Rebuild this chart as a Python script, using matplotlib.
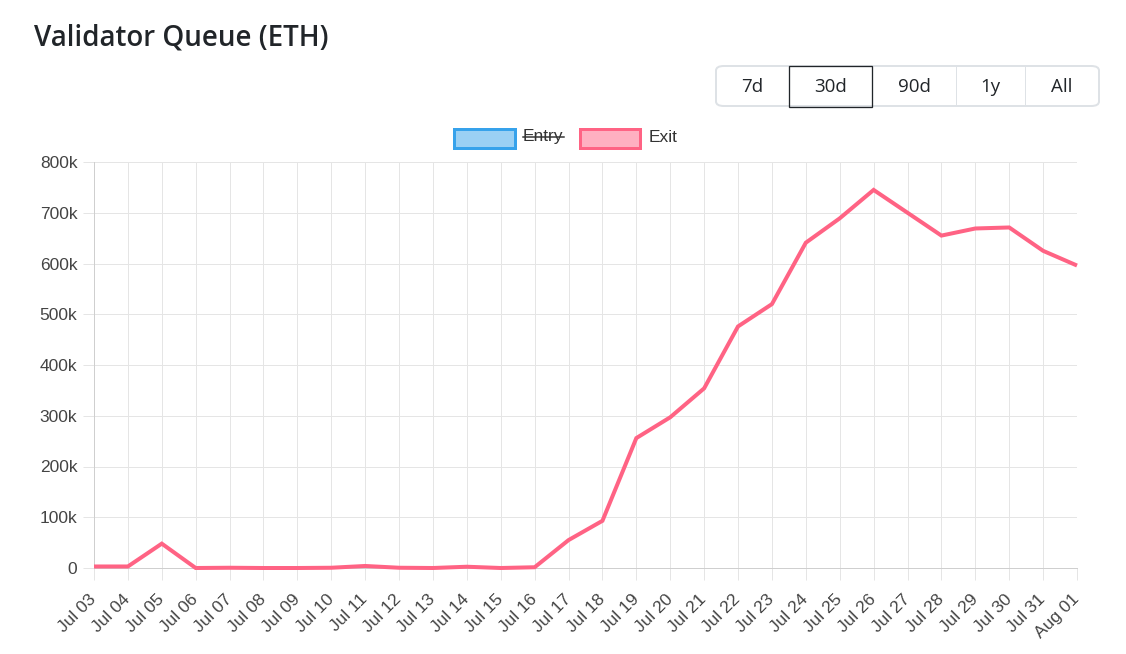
import matplotlib
matplotlib.use("Agg")
import matplotlib.pyplot as plt
from matplotlib.patches import Rectangle, FancyBboxPatch
from matplotlib.lines import Line2D

# ---------------- data ----------------
dates = ["Jul 03", "Jul 04", "Jul 05", "Jul 06", "Jul 07", "Jul 08", "Jul 09", "Jul 10",
         "Jul 11", "Jul 12", "Jul 13", "Jul 14", "Jul 15", "Jul 16", "Jul 17", "Jul 18",
         "Jul 19", "Jul 20", "Jul 21", "Jul 22", "Jul 23", "Jul 24", "Jul 25", "Jul 26",
         "Jul 27", "Jul 28", "Jul 29", "Jul 30", "Jul 31", "Aug 01"]
exit_queue = [3000, 3000, 48000, 0, 500, 0, 0, 500,
              4000, 500, 0, 2500, 0, 1500, 55000, 93000,
              256000, 297000, 354000, 476000, 520000, 641000, 689000, 745000,
              700000, 655000, 669000, 671000, 625000, 596000]
y_ticks = [0, 100000, 200000, 300000, 400000, 500000, 600000, 700000, 800000]
y_tick_labels = ["0", "100k", "200k", "300k", "400k", "500k", "600k", "700k", "800k"]
legend_labels = ["Entry", "Exit"]
buttons = ["7d", "30d", "90d", "1y", "All"]
title = "Validator Queue (ETH)"

# ---------------- layout ----------------
W, H = 1126, 654
DPI = 100
PT = 72.0 / DPI  # points per pixel

def fx(x):
    return x / W

def fy(y):
    return 1 - y / H

fig = plt.figure(figsize=(W / DPI, H / DPI), dpi=DPI)
fig.patch.set_facecolor("white")

CH_FONT = ["Liberation Sans", "DejaVu Sans"]
UI_FONT = ["Open Sans", "DejaVu Sans"]
TXT = "#444444"
GRID = "#e5e5e5"
AXIS = "#cfcfcf"
RED = "#FF6384"
BLUE = "#36A2EB"

left, right, top, bottom = 94, 1077, 162, 568
ax = fig.add_axes([fx(left), fy(bottom), (right - left) / W, (bottom - top) / H])

x = list(range(len(dates)))
ax.plot(x, exit_queue, color=RED, linewidth=4 * PT, solid_joinstyle="miter",
        solid_capstyle="butt", zorder=3, clip_on=False)

ax.set_xlim(0, len(dates) - 1)
ax.set_ylim(0, 800000)
ax.set_xticks(x)
ax.set_xticklabels(dates, rotation=45, ha="right", va="center",
                   rotation_mode="anchor", fontsize=12.5, family=CH_FONT, color=TXT)
ax.set_yticks(y_ticks)
ax.set_yticklabels(y_tick_labels, fontsize=12.5, family=CH_FONT, color=TXT)
ax.tick_params(axis="x", length=12 * PT, width=1 * PT, color=GRID, pad=12)
ax.tick_params(axis="y", length=11 * PT, width=1 * PT, color=GRID, pad=4)
for lbl in ax.get_xticklabels():
    lbl.set_x(lbl.get_position()[0])
ax.grid(True, color=GRID, linewidth=1 * PT, zorder=0)
ax.set_axisbelow(True)
for s in ["top", "right"]:
    ax.spines[s].set_visible(False)
for s in ["left", "bottom"]:
    ax.spines[s].set_color(AXIS)
    ax.spines[s].set_linewidth(1 * PT)

# ---------------- title ----------------
fig.text(fx(34), fy(38), title, fontsize=20, fontweight="semibold", family=UI_FONT,
         color="#212529", ha="left", va="center")

# ---------------- buttons ----------------
bx0, bx1, by0, by1 = 716, 1099, 66, 106
outer = FancyBboxPatch((fx(bx0), fy(by1)), fx(bx1) - fx(bx0), fy(by0) - fy(by1),
                       boxstyle="round,pad=0,rounding_size=0.007",
                       transform=fig.transFigure, facecolor="white",
                       edgecolor="#dee2e6", linewidth=2 * PT, zorder=1)
fig.patches.append(outer)
edges = [716, 789, 872, 956, 1025, 1099]
for i, lab in enumerate(buttons):
    cx = (edges[i] + edges[i + 1]) / 2
    fig.text(fx(cx), fy(87), lab, fontsize=13.5, family=UI_FONT, color="#212529",
             ha="center", va="center", zorder=3)
for sx in [956, 1025]:
    fig.add_artist(Line2D([fx(sx), fx(sx)], [fy(by0 + 1), fy(by1 - 1)],
                          transform=fig.transFigure, color="#dee2e6",
                          linewidth=1 * PT, zorder=2))
sel = Rectangle((fx(789), fy(106.5)), fx(872) - fx(789), fy(66) - fy(106.5),
                transform=fig.transFigure, facecolor="none", edgecolor="#212529",
                linewidth=1.3 * PT, zorder=2)
fig.patches.append(sel)

# ---------------- legend ----------------
def legend_box(x0, x1, y0, y1, edge, face):
    r = Rectangle((fx(x0), fy(y1)), fx(x1) - fx(x0), fy(y0) - fy(y1),
                  transform=fig.transFigure, facecolor=face, edgecolor=edge,
                  linewidth=3 * PT, zorder=2)
    fig.patches.append(r)

legend_box(453.5, 514.5, 128.5, 147.5, BLUE, (54 / 255, 162 / 255, 235 / 255, 0.5))
legend_box(579.5, 640.5, 128.5, 147.5, RED, (1.0, 99 / 255, 132 / 255, 0.5))
t_entry = fig.text(fx(523), fy(137), legend_labels[0], fontsize=12.5, family=CH_FONT,
                   color="#333333", ha="left", va="center")
fig.text(fx(649), fy(137), legend_labels[1], fontsize=12.5, family=CH_FONT,
         color="#333333", ha="left", va="center")

# strike-through for hidden dataset
fig.canvas.draw()
bb = t_entry.get_window_extent(renderer=fig.canvas.get_renderer())
ymid = (bb.y0 + bb.y1) / 2
fig.add_artist(Line2D([bb.x0 / W, bb.x1 / W], [ymid / H, ymid / H],
                      transform=fig.transFigure, color="#333333",
                      linewidth=1.5 * PT, zorder=3))

fig.savefig("out.png", dpi=DPI, facecolor="white")
